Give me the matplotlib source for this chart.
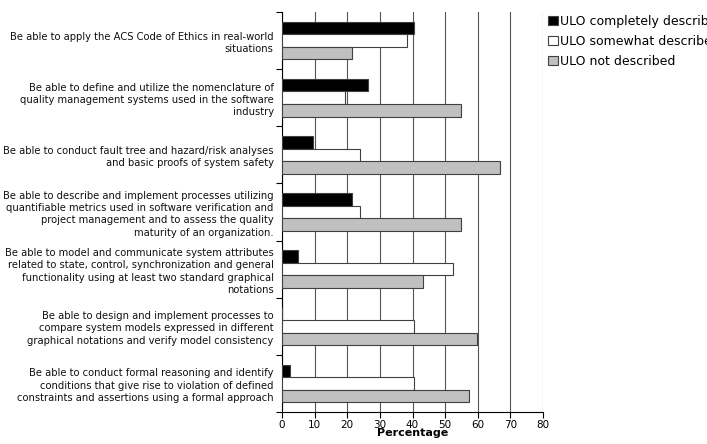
import matplotlib
matplotlib.use("Agg")
import matplotlib.pyplot as plt
from matplotlib.patches import Patch
import numpy as np

categories = [
    "Be able to apply the ACS Code of Ethics in real-world\nsituations",
    "Be able to define and utilize the nomenclature of\nquality management systems used in the software\nindustry",
    "Be able to conduct fault tree and hazard/risk analyses\nand basic proofs of system safety",
    "Be able to describe and implement processes utilizing\nquantifiable metrics used in software verification and\nproject management and to assess the quality\nmaturity of an organization.",
    "Be able to model and communicate system attributes\nrelated to state, control, synchronization and general\nfunctionality using at least two standard graphical\nnotations",
    "Be able to design and implement processes to\ncompare system models expressed in different\ngraphical notations and verify model consistency",
    "Be able to conduct formal reasoning and identify\nconditions that give rise to violation of defined\nconstraints and assertions using a formal approach",
]
completely = [40.6, 26.4, 9.6, 21.6, 5.0, 0.0, 2.5]
somewhat = [38.3, 19.3, 24.0, 24.0, 52.5, 40.6, 40.6]
not_described = [21.6, 54.9, 66.8, 54.9, 43.1, 59.8, 57.2]
series_names = ["ULO completely described", "ULO somewhat described", "ULO not described"]
series_colors = ["#000000", "#ffffff", "#c0c0c0"]
xticks = [0, 10, 20, 30, 40, 50, 60, 70, 80]

fig = plt.figure(figsize=(7.07, 4.44), dpi=100)
ax = fig.add_axes([282/707, 1 - 412/444, (543-282)/707, (412-12)/444])

y = np.arange(len(categories))
h = 0.22
for i, (vals, col) in enumerate(zip([completely, somewhat, not_described], series_colors)):
    ax.barh(y + (i - 1) * h, vals, height=h, color=col, edgecolor="#404040",
            linewidth=0.8, zorder=3)

ax.set_xlim(0, 80)
ax.set_ylim(len(categories) - 0.5, -0.5)
ax.set_xticks(xticks)
ax.set_xticklabels([str(t) for t in xticks], fontsize=7.5)
ax.xaxis.grid(True, color="#555555", linewidth=0.8, zorder=0)
ax.set_axisbelow(True)

ax.set_yticks(np.arange(-0.5, len(categories) + 0.5, 1.0))
ax.set_yticklabels([])
ax.set_yticks(y, minor=True)
ax.set_yticklabels(categories, minor=True, fontsize=7.2, linespacing=1.3, color="#111111")
ax.tick_params(axis="y", which="minor", length=0, pad=6)
ax.tick_params(axis="y", which="major", length=4, direction="out", width=0.8)
ax.tick_params(axis="x", length=4, direction="out", width=0.8, pad=2)

for s in ["top", "right"]:
    ax.spines[s].set_visible(False)
ax.spines["left"].set_linewidth(0.8)
ax.spines["bottom"].set_linewidth(0.8)

ax.set_xlabel("Percentage", fontsize=8, fontweight="bold", labelpad=-2)

handles = [Patch(facecolor=c, edgecolor="#404040", linewidth=0.8) for c in series_colors]
fig.legend(handles, series_names, loc="upper left", bbox_to_anchor=(548/707, 1 - 15/444),
           frameon=False, fontsize=9, handlelength=0.8, handleheight=0.8,
           handletextpad=0.2, labelspacing=0.55, borderaxespad=0, borderpad=0)

fig.savefig("out.png", dpi=100)
